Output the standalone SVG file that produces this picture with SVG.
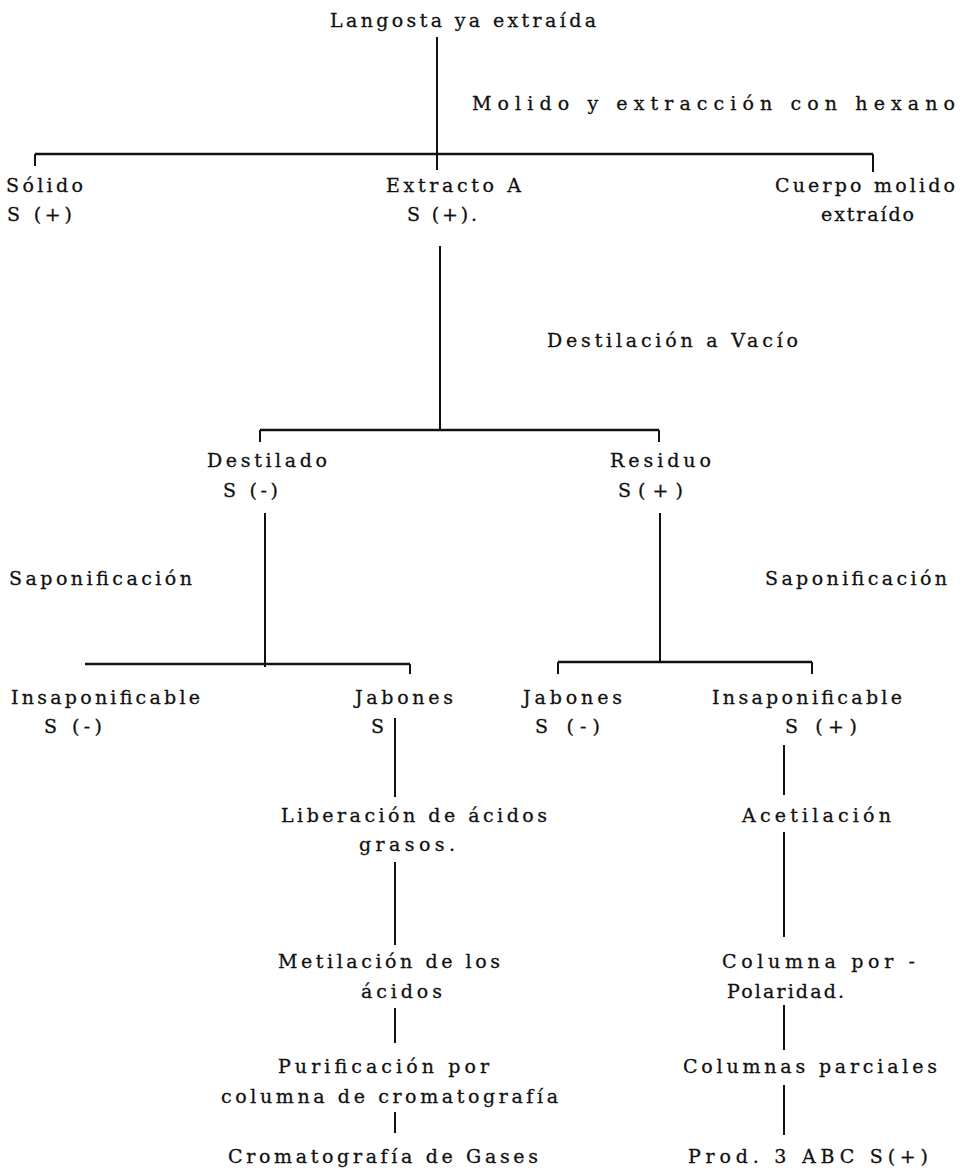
<svg xmlns="http://www.w3.org/2000/svg" width="965" height="1171" viewBox="0 0 965 1171">
<style>
text{font-family:"DejaVu Serif","Liberation Serif",serif;font-size:19px;fill:#111;stroke:#111;stroke-width:0.3}
.c line{stroke:#111;stroke-width:2;stroke-linecap:butt}
.c .h{stroke-width:2.5}
</style>
<rect width="965" height="1171" fill="#fff"/>
<g class="c" id="connectors">
<line x1="437" y1="37" x2="437" y2="170"/>
<line class="h" x1="35" y1="154" x2="873" y2="154"/>
<line x1="35" y1="154" x2="35" y2="166"/>
<line x1="873" y1="154" x2="873" y2="172"/>
<line x1="440" y1="246" x2="440" y2="430"/>
<line class="h" x1="260" y1="430" x2="659" y2="430"/>
<line x1="260" y1="430" x2="260" y2="442"/>
<line x1="659" y1="430" x2="659" y2="442"/>
<line x1="265" y1="513" x2="265" y2="667"/>
<line class="h" x1="85" y1="664" x2="410" y2="664"/>
<line x1="410" y1="664" x2="410" y2="674"/>
<line x1="660" y1="513" x2="660" y2="662"/>
<line class="h" x1="558" y1="662" x2="812" y2="662"/>
<line x1="558" y1="662" x2="558" y2="674"/>
<line x1="812" y1="662" x2="812" y2="674"/>
<line x1="395" y1="718" x2="395" y2="797"/>
<line x1="395" y1="862" x2="395" y2="945"/>
<line x1="395" y1="1008" x2="395" y2="1043"/>
<line x1="395" y1="1112" x2="395" y2="1133"/>
<line x1="784" y1="745" x2="784" y2="795"/>
<line x1="784" y1="832" x2="784" y2="937"/>
<line x1="784" y1="1005" x2="784" y2="1050"/>
<line x1="784" y1="1085" x2="784" y2="1135"/>
</g>
<g id="n-langosta"><text x="330" y="27" textLength="266">Langosta ya extraída</text></g>
<g id="l-molido"><text x="472" y="110" textLength="483">Molido y extracción con hexano</text></g>
<g id="n-solido"><text x="6" y="192" textLength="77">Sólido</text><text x="7" y="221" textLength="65">S (+)</text></g>
<g id="n-extracto"><text x="386" y="192" textLength="135">Extracto A</text><text x="407" y="221" textLength="70">S (+).</text></g>
<g id="n-cuerpo"><text x="775" y="192" textLength="180">Cuerpo molido</text><text x="821" y="221" textLength="93">extraído</text></g>
<g id="l-destilacion"><text x="547" y="347" textLength="251">Destilación a Vacío</text></g>
<g id="n-destilado"><text x="207" y="467" textLength="120">Destilado</text><text x="223" y="497" textLength="55">S (-)</text></g>
<g id="n-residuo"><text x="610" y="467" textLength="101">Residuo</text><text x="618" y="497" textLength="65">S(+)</text></g>
<g id="l-sapon-left"><text x="9" y="585" textLength="183">Saponificación</text></g>
<g id="l-sapon-right"><text x="765" y="585" textLength="182">Saponificación</text></g>
<g id="n-insap-left"><text x="11" y="704" textLength="189">Insaponificable</text><text x="44" y="733" textLength="58">S (-)</text></g>
<g id="n-jabones-left"><text x="355" y="704" textLength="98">Jabones</text><text x="371" y="733">S</text></g>
<g id="n-jabones-right"><text x="523" y="704" textLength="99">Jabones</text><text x="535" y="733" textLength="65">S  (-)</text></g>
<g id="n-insap-right"><text x="712" y="704" textLength="190">Insaponificable</text><text x="785" y="733" textLength="72">S (+)</text></g>
<g id="n-liberacion"><text x="281" y="822" textLength="266">Liberación de ácidos</text><text x="359" y="851" textLength="96">grasos.</text></g>
<g id="n-acetilacion"><text x="742" y="822" textLength="149">Acetilación</text></g>
<g id="n-metilacion"><text x="278" y="968" textLength="222">Metilación de los</text><text x="361" y="998" textLength="81">ácidos</text></g>
<g id="n-columna-pol"><text x="722" y="968" textLength="193">Columna por  -</text><text x="727" y="998" textLength="117">Polaridad.</text></g>
<g id="n-purificacion"><text x="278" y="1073" textLength="211">Purificación por</text><text x="221" y="1103" textLength="337">columna de cromatografía</text></g>
<g id="n-columnas-parc"><text x="683" y="1073" textLength="254">Columnas parciales</text></g>
<g id="n-cromatografia"><text x="228" y="1163" textLength="310">Cromatografía de Gases</text></g>
<g id="n-prod"><text x="688" y="1163" textLength="240">Prod. 3 ABC S(+)</text></g>
</svg>
